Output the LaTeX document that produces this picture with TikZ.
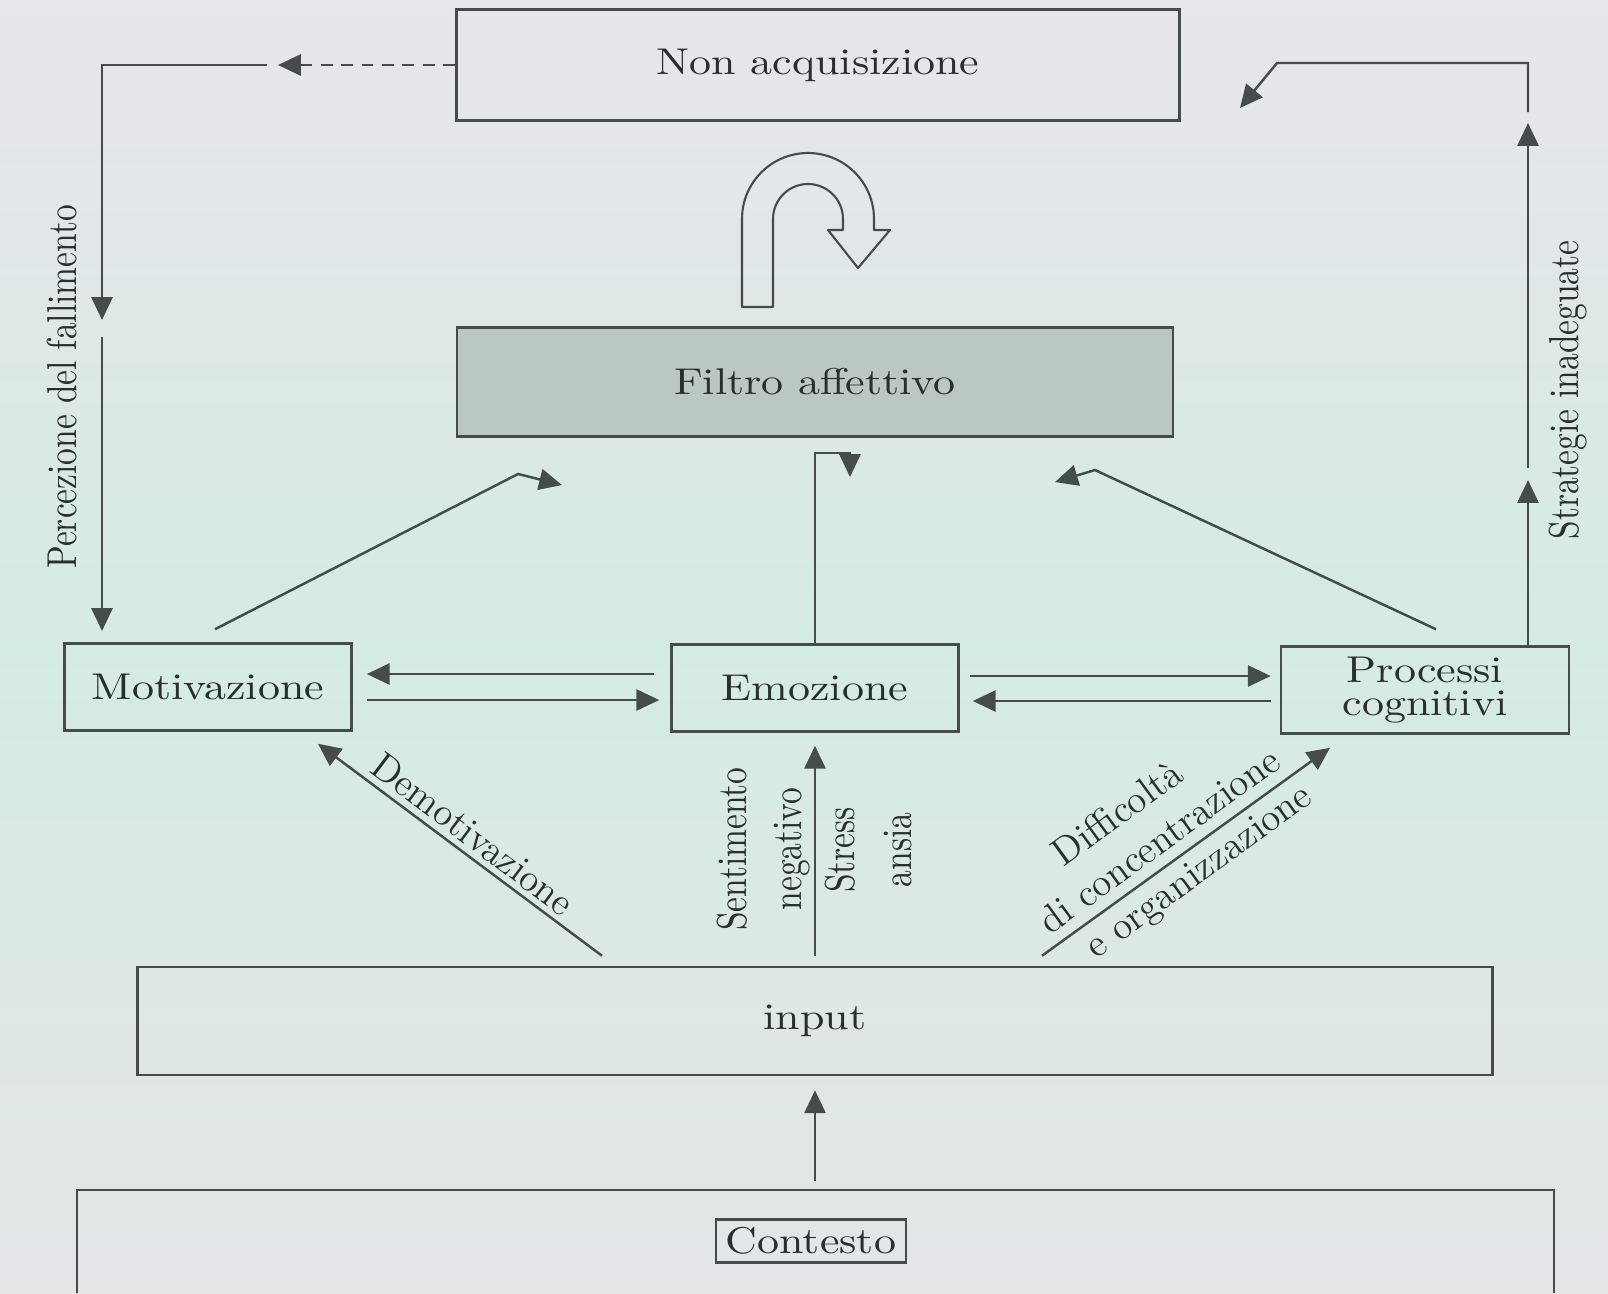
\documentclass[tikz,border=0pt]{standalone}
\usepackage{graphicx}
\usepackage{tikz}
\usetikzlibrary{arrows.meta,positioning}

\definecolor{linegray}{RGB}{70,76,76}
\definecolor{inkgray}{RGB}{42,46,46}
\definecolor{bgtop}{RGB}{232,229,235}
\definecolor{bgmid}{RGB}{212,235,227}
\definecolor{bgbot}{RGB}{229,229,232}
\definecolor{filtrofill}{RGB}{186,199,195}

\newcommand{\wide}[1]{\scalebox{1.18}[1]{#1}}
\newcommand{\tall}[1]{\scalebox{1}[1.25]{#1}}

\tikzset{
  box/.style={draw=linegray, line width=0.7pt, inner sep=0pt, text=inkgray,
    font=\fontsize{10.6}{9.6}\selectfont},
  conn/.style={draw=linegray, line width=0.7pt},
  lab/.style={text=inkgray, inner sep=1pt, font=\fontsize{9.5}{11}\selectfont},
  dlab/.style={text=inkgray, inner sep=1pt, font=\fontsize{11}{13.3}\selectfont},
  uturn/.style={draw=linegray, line width=0.6pt, line join=round}
}

\begin{document}
\begin{tikzpicture}[x=0.01cm, y=-0.01cm, >={Triangle[length=6.5pt,width=6pt]}]
\useasboundingbox (0,0) rectangle (1608,1293);
\fill[top color=bgtop, bottom color=bgbot, middle color=bgmid] (0,0) rectangle (1608,1293);

% boxes
\node[box, minimum width=7.23cm, minimum height=1.11cm] (nonacq) at (818,65) {\wide{Non acquisizione}};
\node[box, fill=filtrofill, minimum width=7.16cm, minimum height=1.09cm] (filtro) at (815,382) {\wide{Filtro affettivo}};
\node[box, minimum width=2.87cm, minimum height=0.87cm] (motiv) at (208,687) {\wide{Motivazione}};
\node[box, minimum width=2.87cm, minimum height=0.87cm] (emoz) at (815,688) {\wide{Emozione}};
\node[box, align=center, minimum width=2.88cm, minimum height=0.87cm] (proc) at (1425,690) {\wide{Processi}\\\wide{cognitivi}};
\node[box, minimum width=13.54cm, minimum height=1.08cm] (input) at (815,1021) {\wide{input}};
\node[box, minimum width=1.90cm, minimum height=0.43cm] (ctx) at (811,1241) {\wide{Contesto}};
\draw[conn] (77,1293) |- (1554,1190) -- (1554,1293);

% U-turn arrow over the filter
\draw[uturn] (742,307) -- (742,219) arc[start angle=180, end angle=360, radius=66]
  -- (874,230) -- (890,230) -- (858,268) -- (828,230) -- (843,230) -- (843,219)
  arc[start angle=0, end angle=-180, radius=35] -- (773,307) -- cycle;

% bend points
\coordinate (pf1) at (278,65);
\coordinate (pf2) at (267,65);
\coordinate (pf3) at (102,320);
\coordinate (pf4) at (102,337);
\coordinate (pf5) at (102,631);
\coordinate (sr1) at (1528,480);
\coordinate (sr2) at (1528,468);
\coordinate (sr3) at (1528,123);
\coordinate (sr4) at (1528,112);
\coordinate (sr5) at (1277,63);
\coordinate (sr6) at (1240,108);
\coordinate (mf1) at (518,474);
\coordinate (mf2) at (562,485);
\coordinate (ef1) at (850,453);
\coordinate (ef2) at (850,477);
\coordinate (pc1) at (1095,470);
\coordinate (pc2) at (1055,482);
\coordinate (ctxtop) at (815,1181);

% feedback loops
\draw[conn, ->, dashed, dash pattern=on 3.4pt off 2.4pt] (nonacq.west) -- (pf1);
\draw[conn, ->] (pf2) -| (pf3);
\draw[conn, ->] (pf4) -- (pf5);
\draw[conn, ->] ([shift={(103,0)}]proc.north) -- (sr1);
\draw[conn, ->] (sr2) -- (sr3);
\draw[conn, ->] (sr4) |- (sr5) -- (sr6);

% into the filter
\draw[conn, ->] ([shift={(7,-13)}]motiv.north) -- (mf1) -- (mf2);
\draw[conn, ->] (emoz.north) |- (ef1) -- (ef2);
\draw[conn, ->] ([shift={(11,-16)}]proc.north) -- (pc1) -- (pc2);

% between the three boxes
\draw[conn, ->] ([shift={(-16,-14)}]emoz.west) -- ([shift={(14,-13)}]motiv.east);
\draw[conn, ->] ([shift={(14,13)}]motiv.east) -- ([shift={(-11,12)}]emoz.west);
\draw[conn, ->] ([shift={(10,-12)}]emoz.east) -- ([shift={(-9,-14)}]proc.west);
\draw[conn, ->] ([shift={(-9,11)}]proc.west) -- ([shift={(13,13)}]emoz.east);

% from the input
\draw[conn, ->] ([shift={(-213,-10)}]input.north) -- ([shift={(110,12)}]motiv.south);
\draw[conn, ->] ([shift={(0,-10)}]input.north) -- ([shift={(0,13)}]emoz.south);
\draw[conn, ->] ([shift={(227,-10)}]input.north) -- ([shift={(-95,13)}]proc.south);
\draw[conn, ->] (ctxtop) -- ([shift={(0,14)}]input.south);

% labels
\node[lab, rotate=90] (perc) at (62,387) {\tall{Percezione del fallimento}};
\node[lab, rotate=90] (strat) at (1568,390) {\tall{Strategie inadeguate}};
\node[lab, rotate=90] (sent) at (732,849) {\tall{Sentimento}};
\node[lab, rotate=90] (negat) at (792,849) {\tall{negativo}};
\node[lab, rotate=90] (stress) at (840,850) {\tall{Stress}};
\node[lab, rotate=90] (ansia) at (898,850) {\tall{ansia}};
\node[dlab, rotate=-37] (demot) at (473,834) {Demotivazione};
\node[dlab, rotate=36, align=center] (diff) at (1161,843)
  {Difficoltà\hspace*{10pt}\\di concentrazione\\\hspace*{8pt}e organizzazione};
\end{tikzpicture}
\end{document}
